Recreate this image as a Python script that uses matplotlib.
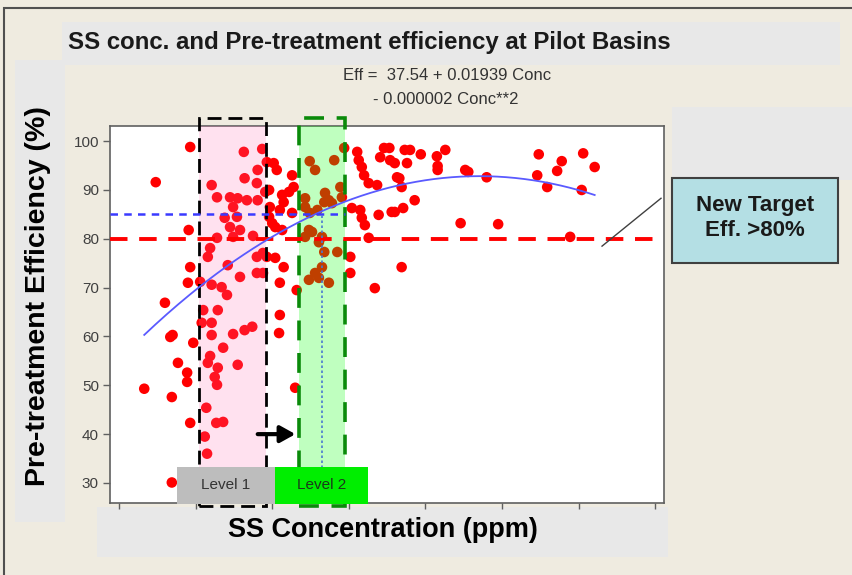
import numpy as np
import matplotlib.pyplot as plt
from matplotlib.patches import Rectangle

# SS concentration (ppm) and pre-treatment efficiency (%)
conc = [1930, 1480, 2630, 2930, 2810, 2640, 2800, 2210, 2280, 2450, 2550, 2670, 2810,
        2490, 2910, 2380, 2540, 2450, 2580, 2490, 2750, 1910, 2280, 2190, 2160, 2420,
        2800, 2880, 1930, 1900, 2060, 2210, 2340, 2410, 2580, 2800, 2880, 1600, 2100,
        2290, 2080, 2210, 2210, 1670, 1700, 1970, 2490, 2640, 2740, 2360, 2190, 2160,
        1770, 2550, 2290, 1890, 2250, 1890, 2280, 1330, 1690, 2140, 1930, 2270, 2360,
        2120, 2150, 1690, 3810, 3490, 3560, 3020, 3060, 3260, 3940, 4110, 4130, 4170,
        4200, 4260, 4460, 4530, 4410, 4540, 4660, 4370, 3280, 3220, 2960, 3130, 3890,
        3910, 3690, 3680, 3430, 3740, 3780, 3590, 3490, 3430, 3150, 3100, 3260, 2970,
        2960, 3000, 3040, 3130, 4040, 4150, 4170, 4390, 4560, 3480, 3520, 3430, 3650,
        3610, 4260, 3850, 3680, 4020, 2930, 3040, 3150, 3650, 3560, 3610, 3480, 4020,
        4690, 3100, 3740, 4340, 3320, 3100, 3090, 3300, 4730, 4800, 4940, 5150, 5260,
        4760, 5160, 5160, 4600, 4630, 4690, 4860, 4710, 4600, 5520, 5560, 5800, 6480,
        6780, 6720, 6460, 6590, 7060, 7210, 7040, 5460, 5950, 6890, 4210, 2870]
eff = [98.8, 91.6, 97.8, 95.7, 94.1, 92.4, 91.4, 91.0, 88.5, 88.5, 88.3, 87.9, 87.9,
       86.5, 89.6, 84.3, 84.5, 82.4, 81.8, 80.4, 80.6, 81.8, 80.2, 78.1, 76.3, 74.6,
       76.3, 77.1, 74.2, 71.0, 71.2, 70.6, 70.1, 68.5, 72.2, 73.0, 73.0, 66.9, 65.4,
       65.4, 62.8, 62.8, 60.3, 59.9, 60.3, 58.7, 60.5, 61.3, 62.0, 57.7, 56.0, 54.6,
       54.6, 54.2, 53.6, 52.6, 51.7, 50.7, 50.1, 49.3, 47.6, 45.4, 42.3, 42.3, 42.5,
       39.5, 36.0, 30.1, 96.1, 95.9, 94.1, 95.5, 94.1, 93.0, 98.6, 97.8, 96.1, 94.7,
       93.0, 91.4, 98.6, 98.6, 96.7, 96.1, 92.4, 91.0, 90.6, 89.6, 90.0, 89.0, 90.6,
       88.5, 89.4, 87.5, 88.3, 87.9, 87.3, 85.9, 85.3, 86.5, 87.5, 85.9, 85.3, 86.5,
       84.5, 83.2, 82.4, 81.8, 86.3, 85.9, 84.3, 84.9, 85.5, 81.8, 81.4, 80.4, 80.4,
       79.3, 80.2, 77.3, 77.3, 76.3, 76.3, 76.1, 74.2, 74.2, 73.0, 72.0, 71.6, 73.0,
       74.2, 71.0, 71.0, 69.9, 69.5, 64.4, 60.7, 49.5, 98.2, 98.2, 97.3, 96.9, 98.2,
       95.5, 94.9, 94.1, 95.5, 92.6, 90.6, 87.9, 86.3, 85.5, 94.1, 93.7, 92.6, 97.3,
       95.9, 93.9, 93.0, 90.6, 97.5, 94.7, 90.0, 83.2, 83.0, 80.4, 82.8, 98.4]

# quadratic fit as drawn (Eff = a + b*Conc + c*Conc**2)
fit_coef = [37.54, 0.01939, -0.0000017]

target_eff = 80
level_eff = 85
level1_range = (2040, 2920)
level2_range = (3350, 3950)
level2_conc = 3650
arrow_conc = (2775, 3340)
arrow_eff = 40
yticks = [30, 40, 50, 60, 70, 80, 90, 100]
xticks = [1000, 2000, 3000, 4000, 5000, 6000, 7000, 8000]

W, H = 852, 575
fig = plt.figure(figsize=(W / 100, H / 100), dpi=100)
fig.patch.set_facecolor('#efebe0')
font = 'Liberation Sans'


def px_rect(x0, y0, x1, y1, **kw):
    r = Rectangle((x0 / W, 1 - y1 / H), (x1 - x0) / W, (y1 - y0) / H,
                  transform=fig.transFigure, zorder=-5, **kw)
    fig.patches.append(r)
    return r


# outer frame and grey panels
px_rect(4, 8, 870, 590, facecolor='none', edgecolor='#505050', lw=1.5)
px_rect(62, 22, 840, 65, facecolor='#e8e8e8', edgecolor='none')
px_rect(15, 60, 65, 522, facecolor='#e8e8e8', edgecolor='none')
px_rect(97, 507, 668, 557, facecolor='#e8e8e8', edgecolor='none')
px_rect(672, 107, 852, 180, facecolor='#e8e8e8', edgecolor='none')

fig.text(68 / W, 1 - 42 / H, 'SS conc. and Pre-treatment efficiency at Pilot Basins',
         family=font, fontsize=17.3, fontweight='bold', color='#1a1a1a', va='center')
fig.text(447 / W, 1 - 76 / H, 'Eff =  37.54 + 0.01939 Conc', family=font,
         fontsize=12, color='#333333', ha='center', va='center')
fig.text(446 / W, 1 - 100 / H, '- 0.000002 Conc**2', family=font,
         fontsize=12, color='#333333', ha='center', va='center')
fig.text(38 / W, 1 - 296 / H, 'Pre-treatment Efficiency (%)', family=font,
         fontsize=20.5, fontweight='bold', rotation=90, ha='center', va='center')
fig.text(383 / W, 1 - 530 / H, 'SS Concentration (ppm)', family=font,
         fontsize=19.5, fontweight='bold', ha='center', va='center')

ax = fig.add_axes([110 / W, 1 - 503 / H, 554 / W, 377 / H])
ax.set_xlim(883, 8115)
ax.set_ylim(25.9, 103.1)
for s in ax.spines.values():
    s.set_color('#606060')
    s.set_linewidth(1.2)
ax.set_yticks(yticks)
ax.set_xticks(xticks)
ax.set_xticklabels([])
ax.tick_params(axis='y', length=5, width=1, color='#606060', labelsize=11,
               labelcolor='#404040', pad=3)
ax.tick_params(axis='x', length=4, width=1, color='#606060')
for lab in ax.get_yticklabels():
    lab.set_family(font)

ax.scatter(conc, eff, s=58, color='#ff0000', edgecolor='none', zorder=2)

# shaded level bands (drawn on top so they tint the points)
ax.axvspan(*level1_range, ymin=0, ymax=1, color=(1.0, 0.41, 0.7), alpha=0.2,
           lw=0, zorder=3)
ax.axvspan(*level2_range, ymin=0, ymax=1, color=(0, 1, 0), alpha=0.25,
           lw=0, zorder=3)

box_top = 104.8
ax.add_patch(Rectangle((level1_range[0], 25.2), level1_range[1] - level1_range[0],
                       box_top - 25.2, fill=False, edgecolor='black', lw=2,
                       ls=(0, (5, 2.5)), clip_on=False, zorder=4))
ax.add_patch(Rectangle((level2_range[0], 25.2), level2_range[1] - level2_range[0],
                       box_top - 25.2, fill=False, edgecolor='#0a8a0a', lw=2.6,
                       ls=(0, (5.5, 3.5)), clip_on=False, zorder=4))

# fitted curve
cx = np.linspace(min(conc), max(conc), 200)
cy = fit_coef[0] + fit_coef[1] * cx + fit_coef[2] * cx ** 2
ax.plot(cx, cy, color='#5a5aff', lw=1.3, zorder=5)

ax.axhline(target_eff, color='#ff0000', lw=2.8, ls=(0, (4.5, 3)), zorder=4)
ax.plot([883, level2_range[1]], [level_eff, level_eff], color='#3a3aff', lw=1.8,
        ls=(0, (3, 2.5)), zorder=5)
ax.plot([level2_conc, level2_conc], [25.9, level_eff], color='#4a78d0', lw=1.2,
        ls=(0, (1.5, 1.5)), zorder=5)

ax.annotate('', xy=(arrow_conc[1], arrow_eff), xytext=(arrow_conc[0], arrow_eff),
            arrowprops=dict(arrowstyle='-|>,head_length=0.9,head_width=0.5',
                            color='black', lw=3), zorder=6)

# level labels
ax.add_patch(Rectangle((1757, 25.6), 1280, 7.7, facecolor='#bdbdbd',
                       edgecolor='none', clip_on=False, zorder=7))
ax.add_patch(Rectangle((3037, 25.6), 1213, 7.7, facecolor='#00ee00',
                       edgecolor='none', clip_on=False, zorder=7))
ax.text(2397, 29.5, 'Level 1', family=font, fontsize=11, color='#333333',
        ha='center', va='center', zorder=8)
ax.text(3643, 29.5, 'Level 2', family=font, fontsize=11, color='#1a3a1a',
        ha='center', va='center', zorder=8)

# callout
ax.plot([7306, 8076], [78.5, 88.3], color='#404040', lw=1, clip_on=False, zorder=6)
px_rect(672, 178, 838, 263, facecolor='#b4dfe4', edgecolor='#404040', lw=1.5)
fig.text(755 / W, 1 - 218 / H, 'New Target\nEff. >80%', family=font, fontsize=16,
         fontweight='bold', color='#1a1a1a', ha='center', va='center',
         linespacing=1.25)

fig.savefig('out.png', dpi=100, facecolor=fig.get_facecolor())
